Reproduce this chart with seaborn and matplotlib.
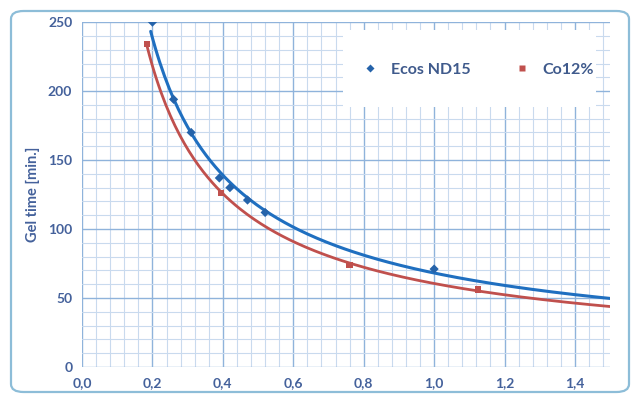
import numpy as np
import pandas as pd
import matplotlib
matplotlib.use("Agg")
import matplotlib.pyplot as plt
from matplotlib.patches import FancyBboxPatch, Rectangle
from matplotlib.ticker import MultipleLocator, FixedLocator
import seaborn as sns

# --- data ---
ecos_x = [0.20, 0.26, 0.31, 0.39, 0.42, 0.47, 0.52, 1.00]
ecos_y = [250, 194, 170, 137, 130, 121, 112, 71]
co_x = [0.185, 0.395, 0.76, 1.125]
co_y = [234, 126, 74, 56]

series_names = ["Ecos ND15", "Co12%"]
x_ticks = [0.0, 0.2, 0.4, 0.6, 0.8, 1.0, 1.2, 1.4]
x_tick_labels = ["0,0", "0,2", "0,4", "0,6", "0,8", "1,0", "1,2", "1,4"]
y_ticks = [0, 50, 100, 150, 200, 250]
y_label = "Gel time [min.]"

# trend-line ranges (power trendlines, Excel style)
ecos_trend_range = (0.195, 1.5)
co_trend_range = (0.185, 1.5)

BLUE = "#1f6fc0"
BLUE_MARK = "#2563aa"
RED = "#c0504d"
TEXT = "#44619b"

sns.set_style("white")
plt.rcParams["font.family"] = ["Lato", "DejaVu Sans"]

points = pd.DataFrame({
    "x": ecos_x + co_x,
    "y": ecos_y + co_y,
    "series": [series_names[0]] * len(ecos_x) + [series_names[1]] * len(co_x),
})


def power_fit(xs, ys, xr):
    # least squares on log-log, like Excel's power trendline
    b, loga = np.polyfit(np.log(xs), np.log(ys), 1)
    xx = np.linspace(xr[0], xr[1], 200)
    return pd.DataFrame({"x": xx, "y": np.exp(loga) * xx ** b})


fig = plt.figure(figsize=(6.31, 3.95), dpi=100)
ax = fig.add_axes([0.130, 0.071, 0.837, 0.873])

# outer rounded frame
frame = FancyBboxPatch((11 / 631, 3 / 395), 618 / 631, 381 / 395,
                       boxstyle="round,pad=0,rounding_size=0.02",
                       transform=fig.transFigure, facecolor="none",
                       edgecolor="#8dbdd8", linewidth=1.6, zorder=0)
fig.patches.append(frame)

ax.set_xlim(0, 1.5)
ax.set_ylim(0, 250)
ax.xaxis.set_major_locator(FixedLocator(x_ticks))
ax.set_xticklabels(x_tick_labels)
ax.xaxis.set_minor_locator(MultipleLocator(0.04))
ax.yaxis.set_major_locator(FixedLocator(y_ticks))
ax.yaxis.set_minor_locator(MultipleLocator(10))
ax.grid(which="major", color="#8fb3db", linewidth=1.0, zorder=0)
ax.grid(which="minor", color="#c9daee", linewidth=0.8, zorder=0)
ax.set_axisbelow(True)
for s in ax.spines.values():
    s.set_visible(False)
ax.tick_params(axis="both", which="major", length=4, color="#8fb3db",
               labelsize=10, labelcolor=TEXT, pad=3)
ax.tick_params(axis="both", which="minor", length=0)
for lab in ax.get_xticklabels() + ax.get_yticklabels():
    lab.set_fontweight("bold")

# white legend area covering the grid
ax.add_patch(Rectangle((0.494, 0.754), 0.479, 0.223, transform=ax.transAxes,
                       facecolor="white", edgecolor="none", zorder=1))

# trendlines
sns.lineplot(data=power_fit(ecos_x, ecos_y, ecos_trend_range), x="x", y="y",
             color=BLUE, linewidth=2.2, ax=ax, zorder=3)
sns.lineplot(data=power_fit(co_x, co_y, co_trend_range), x="x", y="y",
             color=RED, linewidth=2.0, ax=ax, zorder=2)

# data points
sns.scatterplot(data=points, x="x", y="y", hue="series", style="series",
                markers={series_names[0]: "D", series_names[1]: "s"},
                palette={series_names[0]: BLUE_MARK, series_names[1]: RED},
                s=22, edgecolor="none", ax=ax, zorder=4)

ax.set_xlabel("")
ax.set_ylabel(y_label, color=TEXT, fontsize=10.5, fontweight="bold", labelpad=6)

leg = ax.legend(loc="center", bbox_to_anchor=(0.742, 0.862), ncol=2,
                frameon=False, fontsize=11.5, handletextpad=0.3,
                columnspacing=2.2, markerscale=0.8)
for t in leg.get_texts():
    t.set_color("#3f5a8c")
    t.set_fontweight("bold")

fig.savefig("out.png", dpi=100)
